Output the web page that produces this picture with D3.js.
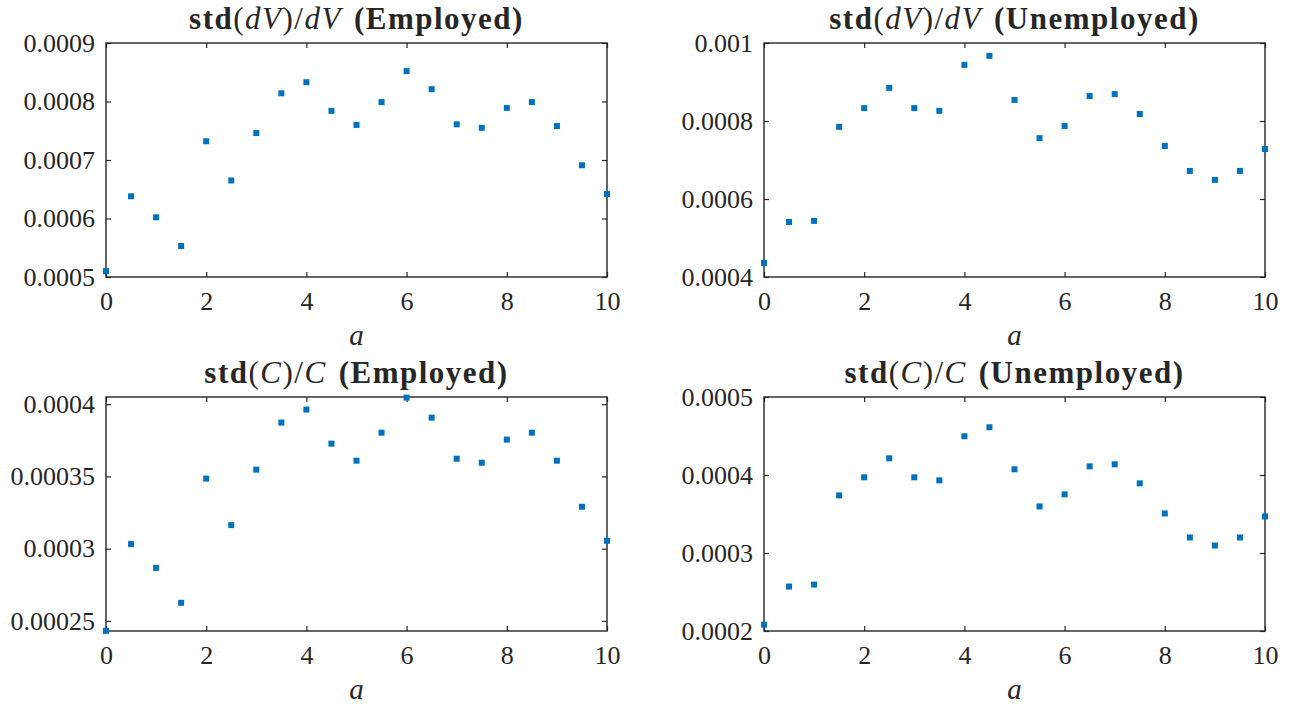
<!DOCTYPE html>
<html>
<head>
<meta charset="utf-8">
<script src="https://d3js.org/d3.v7.min.js"></script>
<style>
  body { margin: 0; background: #fff; }
  text { font-family: "Liberation Serif", "Tinos", "Times New Roman", "DejaVu Serif", serif; fill: #262626; }
</style>
</head>
<body>
<div id="fig"></div>
<script>

// asset grid
var aGrid = [0,0.5,1,1.5,2,2.5,3,3.5,4,4.5,5,5.5,6,6.5,7,7.5,8,8.5,9,9.5,10];

// std(dV)/dV
var dvEmployed   = [0.000510,0.000638,0.000602,0.000553,0.000732,0.000665,0.000746,0.000814,0.000833,0.000784,0.000760,
                    0.000799,0.000852,0.000821,0.000761,0.000755,0.000789,0.000799,0.000758,0.000691,0.000642];
var dvUnemployed = [0.000436,0.000541,0.000544,0.000785,0.000833,0.000885,0.000833,0.000826,0.000944,0.000967,0.000854,
                    0.000756,0.000787,0.000864,0.000869,0.000818,0.000736,0.000672,0.000649,0.000672,0.000728];

// std(C)/C
var cEmployed    = [0.0002431,0.0003032,0.0002867,0.0002625,0.0003485,0.0003163,0.0003547,0.0003873,0.0003963,0.0003727,0.0003609,
                    0.0003803,0.0004046,0.0003907,0.0003623,0.0003595,0.0003755,0.0003803,0.0003609,0.0003290,0.0003055];
var cUnemployed  = [0.0002081,0.0002570,0.0002595,0.0003739,0.0003970,0.0004214,0.0003970,0.0003931,0.0004497,0.0004612,0.0004073,
                    0.0003597,0.0003752,0.0004111,0.0004137,0.0003893,0.0003507,0.0003199,0.0003096,0.0003199,0.0003469];

var xTicks = [0,2,4,6,8,10];
var yTicksDvEmp   = [0.0005,0.0006,0.0007,0.0008,0.0009];
var yTicksDvUnemp = [0.0004,0.0006,0.0008,0.001];
var yTicksCEmp    = [0.00025,0.0003,0.00035,0.0004];
var yTicksCUnemp  = [0.0002,0.0003,0.0004,0.0005];

var yLimDvEmp   = [0.0005,0.0009];
var yLimDvUnemp = [0.0004,0.001];
var yLimCEmp    = [0.000243,0.000405];
var yLimCUnemp  = [0.0002,0.0005];

var panels = [
  {v:"dV", grp:"(Employed)",   vals:dvEmployed,   ticks:yTicksDvEmp,   lim:yLimDvEmp,   left:106, top:43},
  {v:"dV", grp:"(Unemployed)", vals:dvUnemployed, ticks:yTicksDvUnemp, lim:yLimDvUnemp, left:764, top:43},
  {v:"C",  grp:"(Employed)",   vals:cEmployed,    ticks:yTicksCEmp,    lim:yLimCEmp,    left:106, top:397},
  {v:"C",  grp:"(Unemployed)", vals:cUnemployed,  ticks:yTicksCUnemp,  lim:yLimCUnemp,  left:764, top:397}
];

var W = 1291, H = 705;
var pw = 501, ph = 234;
var axisCol = "#262626";
var markCol = "#0072BD";
var serif = "'Liberation Serif', 'Tinos', 'Times New Roman', 'DejaVu Serif', serif";

var svg = d3.select("#fig").append("svg")
    .attr("width", W)
    .attr("height", H);

panels.forEach(function(p) {

  var g = svg.append("g")
      .attr("transform", "translate(" + p.left + "," + p.top + ")");

  var x = d3.scaleLinear().domain([0,10]).range([0,pw]);
  var y = d3.scaleLinear().domain(p.lim).range([ph,0]);

  // bottom axis with labels
  var ax = g.append("g")
      .attr("transform", "translate(0," + ph + ")")
      .call(d3.axisBottom(x).tickValues(xTicks).tickSizeInner(-5).tickSizeOuter(0).tickPadding(15));
  // top ticks
  var axt = g.append("g")
      .call(d3.axisTop(x).tickValues(xTicks).tickSizeInner(-5).tickSizeOuter(0).tickFormat(""));
  // left axis with labels
  var ay = g.append("g")
      .call(d3.axisLeft(y).tickValues(p.ticks).tickSizeInner(-5).tickSizeOuter(0).tickPadding(11)
            .tickFormat(function(d){ return String(d); }));
  // right ticks
  var ayr = g.append("g")
      .attr("transform", "translate(" + pw + ",0)")
      .call(d3.axisRight(y).tickValues(p.ticks).tickSizeInner(-5).tickSizeOuter(0).tickFormat(""));

  [ax,axt,ay,ayr].forEach(function(a){
    a.attr("font-family", serif);
    a.select(".domain").remove();
    a.selectAll("line").attr("stroke", axisCol).attr("stroke-width", 1.2);
    a.selectAll("text").attr("font-size", 26).attr("fill", axisCol);
  });

  g.append("rect")
      .attr("x", 0).attr("y", 0)
      .attr("width", pw).attr("height", ph)
      .attr("fill", "none")
      .attr("stroke", axisCol)
      .attr("stroke-width", 1.4);

  // markers
  g.selectAll("rect.pt")
      .data(aGrid.map(function(a,i){ return {a:a, v:p.vals[i]}; }))
      .enter().append("rect")
      .attr("class", "pt")
      .attr("x", function(d){ return x(d.a) - 3; })
      .attr("y", function(d){ return y(d.v) - 3; })
      .attr("width", 6)
      .attr("height", 6)
      .attr("fill", markCol);

  // title
  var t = g.append("text")
      .attr("x", pw/2)
      .attr("y", -14)
      .attr("text-anchor", "middle")
      .attr("font-family", serif)
      .attr("font-size", 31)
      .attr("letter-spacing", 1.5);
  t.append("tspan").attr("font-weight", "bold").text("std");
  t.append("tspan").text("(");
  t.append("tspan").attr("font-style", "italic").text(p.v);
  t.append("tspan").text(")/");
  t.append("tspan").attr("font-style", "italic").text(p.v);
  t.append("tspan").attr("font-weight", "bold").attr("dx", 12).text(p.grp);

  // x label
  g.append("text")
      .attr("x", pw/2)
      .attr("y", ph + 68)
      .attr("text-anchor", "middle")
      .attr("font-family", serif)
      .attr("font-size", 29)
      .attr("font-style", "italic")
      .text("a");
});

</script>
</body>
</html>
